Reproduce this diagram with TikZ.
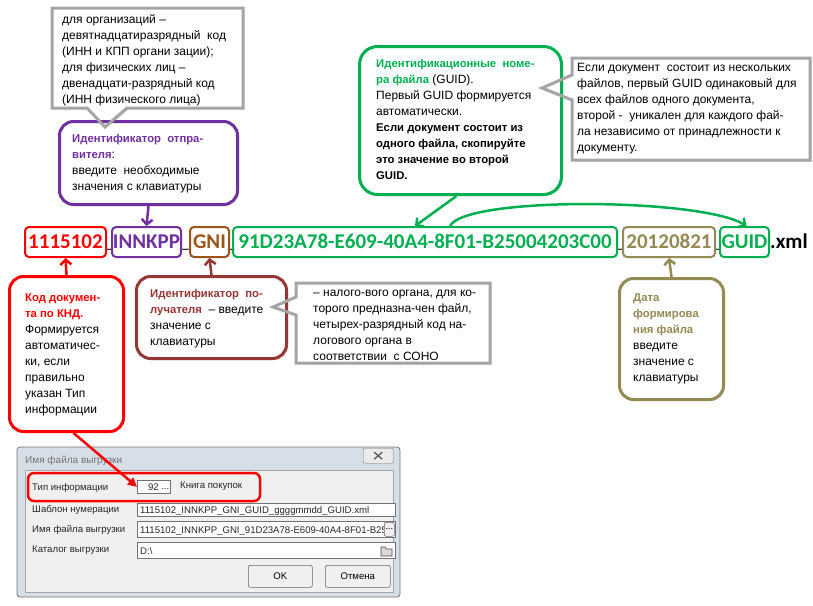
\documentclass[tikz,border=0pt]{standalone}
\usepackage{fontspec}
\setmainfont{Liberation Sans}
\newfontfamily\rowfont{Carlito}
\usetikzlibrary{arrows.meta,shadows}
\definecolor{cRed}{HTML}{FF0000}
\definecolor{cPur}{HTML}{7030A0}
\definecolor{cBrn}{HTML}{9C5418}
\definecolor{cMar}{HTML}{953735}
\definecolor{cGrn}{HTML}{00B050}
\definecolor{cOl}{HTML}{948A54}
\definecolor{cGry}{HTML}{A5A5A5}
\definecolor{cWin}{HTML}{D6DEE8}
\definecolor{cPanel}{HTML}{F0F0F0}
\newcommand\bt[1]{{\fontsize{11.3}{16}\selectfont\bfseries #1}}
\tikzset{
  shd/.style={drop shadow={opacity=0.25,shadow xshift=1.5pt,shadow yshift=-1.5pt}},
  rbox/.style={draw,line width=3pt,rounded corners=14pt,fill=white,shd,inner sep=0pt,anchor=north west},
  gline/.style={draw=cGry,line width=3pt,line join=miter},
  txt/.style={anchor=north west,inner sep=0pt,align=left,font=\fontsize{12}{16}\selectfont},
  fbox/.style={draw,line width=2pt,rounded corners=4pt,inner sep=0pt,minimum height=30pt,text height=13.5pt,text depth=0pt,font=\rowfont\bfseries\fontsize{21}{21}\selectfont},
  rowtxt/.style={inner sep=0pt,anchor=base,font=\rowfont\bfseries\fontsize{21}{21}\selectfont},
  usc/.style={inner sep=0pt,anchor=base,font=\rowfont\bfseries\fontsize{13}{13}\selectfont},
  arr/.style={line width=2.5pt,-{Straight Barb[length=5pt,width=11pt]}},
  dlg/.style={inner sep=0pt,anchor=base west,font=\fontsize{9.6}{11}\selectfont,text=black!85},
  fld/.style={draw=black!55,fill=white,line width=0.6pt,inner sep=0pt,anchor=north west},
  btn/.style={draw=black!60,fill=black!6,rounded corners=2pt,line width=0.6pt,inner sep=0pt,font=\fontsize{9.6}{11}\selectfont},
}
\begin{document}
\begin{tikzpicture}[x=1pt,y=-1pt]
\useasboundingbox[fill=white] (0,0) rectangle (813,605);

% ---- gray callout fills (under boxes)
\path[fill=white,shd] (52,8) -- (243,8) -- (243,108) -- (127,108) -- (105,127) -- (87,108) -- (52,108) -- cycle;
\path[fill=white,shd] (572,58) -- (810,58) -- (810,160) -- (572,160) -- (572,100) -- (542,88) -- (572,75) -- cycle;
\path[fill=white,shd] (296,283) -- (490,283) -- (490,363) -- (296,363) -- (296,315) -- (273,307) -- (296,297) -- cycle;

% ---- coloured boxes
\node[rbox,draw=cPur,minimum width=178pt,minimum height=83pt] (pB) at (58,120) {};
\node[rbox,draw=cGrn,rounded corners=18pt,minimum width=202pt,minimum height=148pt] (gG) at (358,45) {};
\node[rbox,draw=cRed,minimum width=114pt,minimum height=155pt] (rK) at (8,275) {};
\node[rbox,draw=cMar,minimum width=150pt,minimum height=82pt] (bR) at (135,275) {};
\node[rbox,draw=cOl,minimum width=104pt,minimum height=121pt] (oD) at (618,277) {};

% ---- gray callout outlines
\path[gline] (52,8) -- (243,8) -- (243,108) -- (127,108) -- (105,127) -- (87,108) -- (52,108) -- cycle;
\path[gline] (572,58) -- (810,58) -- (810,160) -- (572,160) -- (572,100) -- (542,88) -- (572,75) -- cycle;
\path[gline] (296,283) -- (490,283) -- (490,363) -- (296,363) -- (296,315) -- (273,307) -- (296,297) -- cycle;

% ---- texts
\node[txt] (tA) at (62,12) {\strut для организаций –\\девятнадцатиразрядный\ \ код\\(ИНН и КПП органи зации);\\для физических лиц –\\двенадцати-разрядный код\\(ИНН физического лица)};
\node[txt] (tB) at (72,131) {\strut\textcolor{cPur}{\bt{Идентификатор\ \ отпра-}}\\\textcolor{cPur}{\bt{вителя}}:\\введите\ \ необходимые\\значения с клавиатуры};
\node[txt] (tG) at (376,56) {\strut\textcolor{cGrn}{\bt{Идентификационные\ \ номе-}}\\\textcolor{cGrn}{\bt{ра файла}} (GUID).\\Первый GUID формируется\\автоматически.\\\bt{Если документ состоит из}\\\bt{одного файла, скопируйте}\\\bt{это значение во второй}\\\bt{GUID.}};
\node[txt] (tT) at (577,60) {\strut Если документ\ \ состоит из нескольких\\файлов, первый GUID одинаковый для\\всех файлов одного документа,\\второй -\ \ уникален для каждого фай-\\ла независимо от принадлежности к\\документу.};
\node[txt] (tK) at (25,290) {\strut\textcolor{cRed}{\bt{Код докумен-}}\\\textcolor{cRed}{\bt{та по КНД.}}\\Формируется\\автоматичес-\\ки, если\\правильно\\указан Тип\\информации};
\node[txt] (tR) at (150,286) {\strut\textcolor{cMar}{\bt{Идентификатор\ \ по-}}\\\textcolor{cMar}{\bt{лучателя}}\ \ – введите\\значение с\\клавиатуры};
\node[txt] (tS) at (313,285) {\strut – налого-вого органа, для ко-\\торого предназна-чен файл,\\четырех-разрядный код на-\\логового органа в\\соответствии\ \ с СОНО};
\node[txt] (tO) at (633,290) {\strut\textcolor{cOl}{\bt{Дата}}\\\textcolor{cOl}{\bt{формирова}}\\\textcolor{cOl}{\bt{ния файла}}\\введите\\значение с\\клавиатуры};

% ---- file name row
\node[usc] (u1) at (109,248.75) {\_};
\node[usc] (u2) at (185.5,248.75) {\_};
\node[usc] (u3) at (231,248.75) {\_};
\node[usc] (u4) at (620,248.75) {\_};
\node[usc] (u5) at (717.5,248.75) {\_};
\node[fbox,draw=cRed,text=cRed,minimum width=81pt] (fA) at (65.5,242) {1115102};
\node[fbox,draw=cPur,text=cPur,minimum width=69pt] (fB) at (146.5,242) {INNKPP};
\node[fbox,draw=cBrn,text=cBrn,minimum width=39pt] (fC) at (209.5,242) {GNI};
\node[fbox,draw=cGrn,text=cGrn,minimum width=384pt] (fD) at (425,242) {91D23A78-E609-40A4-8F01-B25004203C00};
\node[fbox,draw=cOl,text=cOl,minimum width=92pt] (fE) at (669,242) {20120821};
\node[fbox,draw=cGrn,text=cGrn,minimum width=49pt] (fF) at (744.5,242) {GUID};
\node[rowtxt,anchor=base west] (xml) at (770,248.75) {.xml};

% ---- arrows
\draw[arr,cPur] (pB.south) -- (fB.north);
\draw[arr,cGrn] ([xshift=-4pt]gG.south) -- ([xshift=-10pt]fD.north);
\draw[arr,cGrn] ([xshift=25pt]fD.north) .. controls +(15,-30) and +(-45,-28) .. ([xshift=2pt]fF.north);
\draw[arr,cRed] (rK.north) -- (fA.south);
\draw[arr,cMar] (bR.north) -- (fC.south);
\draw[arr,cOl] (oD.north) -- (fE.south);

% ---- dialog
\path[draw=black!55,fill=cWin,line width=0.8pt,rounded corners=3pt] (17,447) rectangle (400,597);
\path[draw=black!35,fill=cPanel] (25,470) rectangle (393,592);
\node[dlg,text=black!55,font=\fontsize{10}{12}\selectfont] (ttl) at (25,463) {Имя файла выгрузки};
\node[draw=black!55,fill=black!8,rounded corners=2pt,minimum width=30pt,minimum height=15pt,anchor=north west,inner sep=0pt] (cls) at (363,448) {};
\draw[line width=1.3pt,black!65] ([shift={(-4,-3.5)}]cls.center) -- ([shift={(4,3.5)}]cls.center);
\draw[line width=1.3pt,black!65] ([shift={(-4,3.5)}]cls.center) -- ([shift={(4,-3.5)}]cls.center);
\node[dlg] (l1) at (32,490) {Тип информации};
\node[dlg] (l2) at (32,512) {Шаблон нумерации};
\node[dlg] (l3) at (32,532) {Имя файла выгрузки};
\node[dlg] (l4) at (32,552) {Каталог выгрузки};
\node[fld,minimum width=33pt,minimum height=13pt] (f92) at (137,480) {};
\node[dlg,anchor=base east] (v92) at (159,490) {92};
\node[dlg] (d92) at (161,489) {...};
\node[dlg] (kp) at (180,488) {Книга покупок};
\node[fld,minimum width=258pt,minimum height=13pt] (f2) at (137,503) {};
\node[dlg] (v2) at (140,513) {1115102\_INNKPP\_GNI\_GUID\_ggggmmdd\_GUID.xml};
\node[fld,minimum width=258pt,minimum height=16pt] (f3) at (137,521) {};
\begin{scope}
\clip (137,521) rectangle (383,537);
\node[dlg] (v3) at (140,533) {1115102\_INNKPP\_GNI\_91D23A78-E609-40A4-8F01-B250};
\end{scope}
\node[btn,minimum width=10pt,minimum height=14pt,anchor=north west] (b3) at (384,522) {...};
\node[fld,minimum width=258pt,minimum height=16pt] (f4) at (137,542) {};
\node[dlg] (v4) at (140,554) {D:\textbackslash};
\path[draw=black!70,fill=black!15,line width=0.6pt] (381,547) -- (385,547) -- (386,549) -- (392,549) -- (392,556) -- (381,556) -- cycle;
\node[btn,minimum width=64pt,minimum height=22pt,anchor=north west] (ok) at (248,565) {OK};
\node[btn,minimum width=65pt,minimum height=22pt,anchor=north west] (cn) at (325,565) {Отмена};
\draw[cRed,line width=2.5pt,rounded corners=6pt] (28,473) rectangle (260,501);
\draw[cRed,line width=2.5pt,-{Triangle[length=9pt,width=9pt]}] ([xshift=7pt]rK.south) -- (f92.west);
\end{tikzpicture}
\end{document}
